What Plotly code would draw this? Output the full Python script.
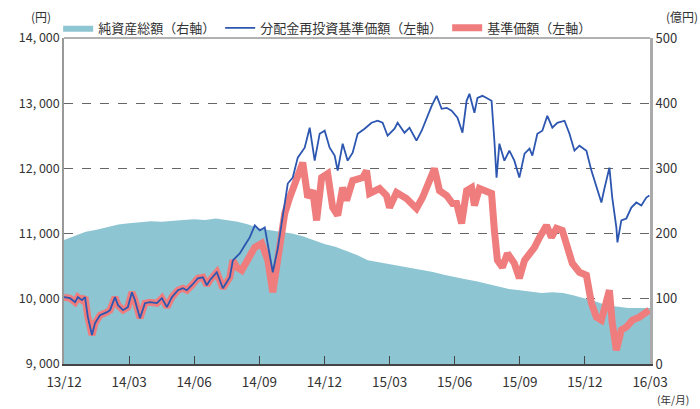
import plotly.graph_objects as go

# x positions are months elapsed since end of Dec 2013 (13/12 = 0)
tick_months = [0, 3, 6, 9, 12, 15, 18, 21, 24, 27]
tick_labels = ["13/12", "14/03", "14/06", "14/09", "14/12", "15/03", "15/06", "15/09", "15/12", "16/03"]

# 純資産総額（億円, right axis)
asset_months = [0, 0.5, 1, 1.5, 2, 2.5, 3, 3.5, 4, 4.5, 5, 5.5, 6, 6.5, 7, 7.5, 8, 8.5, 9, 9.5, 10, 10.5,
                11, 11.5, 12, 12.5, 13, 13.5, 14, 14.5, 15, 15.5, 16, 16.5, 17, 17.5, 18, 18.5, 19, 19.5,
                20, 20.5, 21, 21.5, 22, 22.5, 23, 23.5, 24, 24.5, 25, 25.5, 26, 26.5, 27]
asset_values = [190, 196, 203, 206, 210, 214, 216, 218, 219, 218, 220, 221, 222, 221, 223, 221, 218, 214, 208, 205,
                203, 200, 196, 190, 184, 180, 174, 167, 159, 156, 154, 150, 147, 144, 141, 137, 133, 130, 127, 123,
                118, 115, 113, 111, 109, 110, 109, 105, 101, 96, 90, 88, 86, 86, 86]

# Period where both price series coincide (円, left axis)
common_months = [0, 0.28, 0.51, 0.64, 0.83, 0.97, 1.10, 1.29, 1.43, 1.66, 1.98, 2.12, 2.35, 2.49, 2.72, 2.94,
                 3.13, 3.27, 3.50, 3.73, 3.96, 4.28, 4.51, 4.74, 4.97, 5.25, 5.48, 5.66, 5.89, 6.17, 6.40,
                 6.58, 6.72, 7.04, 7.32, 7.64, 7.78]
common_values = [10025, 10009, 9948, 10025, 9979, 10025, 9719, 9444, 9627, 9749, 9795, 9826, 10025, 9902, 9826, 9872,
                 10101, 9979, 9703, 9933, 9948, 9933, 10009, 9872, 10025, 10131, 10162, 10131, 10208, 10315, 10330,
                 10208, 10284, 10407, 10162, 10330, 10590]

# 分配金再投資基準価額 after divergence
reinvest_months = [8.10, 8.33, 8.56, 8.79, 9.02, 9.25, 9.48, 9.62, 9.85, 10.08, 10.31, 10.54, 10.77, 11.09, 11.32,
                   11.55, 11.78, 12.01, 12.24, 12.47, 12.61, 12.84, 13.07, 13.30, 13.53, 13.85, 14.17, 14.45,
                   14.68, 14.91, 15.23, 15.37, 15.69, 15.92, 16.24, 16.48, 16.71, 16.94, 17.17, 17.40, 17.63,
                   17.86, 18.13, 18.36, 18.55, 18.68, 18.91, 19.05, 19.28, 19.51, 19.70, 19.83, 19.93, 20.06,
                   20.29, 20.52, 20.75, 20.98, 21.22, 21.45, 21.58, 21.81, 22.04, 22.27, 22.50, 22.73, 23.06,
                   23.29, 23.52, 23.75, 24.07, 24.30, 24.53, 24.76, 24.90, 25.13, 25.26, 25.45, 25.50, 25.68,
                   25.91, 26.14, 26.37, 26.60, 26.83, 26.97]
reinvest_values = [10697, 10820, 10942, 11125, 11049, 11095, 10697, 10407, 10774, 11309, 11768, 11859, 12165, 12318,
                   12624, 12119, 12532, 12578, 12318, 12196, 11966, 12379, 12119, 12241, 12532, 12609, 12700, 12731,
                   12700, 12501, 12609, 12700, 12547, 12624, 12425, 12578, 12777, 12960, 13113, 12914, 12929,
                   12884, 12777, 12547, 13037, 13144, 12853, 13083, 13113, 13067, 13037, 12425, 11859, 12379,
                   12119, 12272, 12119, 11859, 12226, 12302, 12196, 12532, 12578, 12807, 12624, 12700, 12731,
                   12532, 12272, 12348, 12272, 11966, 11706, 11477, 11691, 12012, 11553, 11095, 10866, 11202,
                   11232, 11400, 11477, 11431, 11553, 11584]

# 基準価額 after divergence
nav_months = [7.96, 8.19, 8.47, 8.79, 9.11, 9.39, 9.62, 9.85, 10.17, 10.40, 10.72, 11.00, 11.23, 11.46, 11.64,
              11.87, 12.15, 12.38, 12.61, 12.84, 13.02, 13.30, 13.76, 13.94, 14.08, 14.54, 14.86, 15.00, 15.32,
              15.78, 16.24, 16.52, 16.84, 17.07, 17.30, 17.63, 17.90, 18.09, 18.32, 18.55, 18.78, 18.91, 19.14,
              19.47, 19.70, 19.83, 19.97, 20.20, 20.43, 20.75, 20.98, 21.22, 21.45, 21.68, 21.91, 22.23, 22.46,
              22.69, 22.96, 23.19, 23.42, 23.75, 24.07, 24.30, 24.53, 24.76, 24.99, 25.13, 25.26, 25.45, 25.68,
              25.91, 26.19, 26.51, 26.83, 26.97]
nav_values = [10483, 10437, 10590, 10789, 10850, 10590, 10101, 10545, 11309, 11554, 11859, 12089, 11554, 11661, 11202,
              11859, 11920, 11400, 11278, 11706, 11508, 11813, 11859, 11966, 11615, 11691, 11584, 11400, 11630,
              11538, 11385, 11554, 11813, 11997, 11660, 11584, 11462, 11462, 11156, 11660, 11706, 11431, 11691,
              11660, 11615, 11049, 10590, 10483, 10697, 10545, 10315, 10590, 10697, 10789, 10942, 11125, 10942,
              11080, 11049, 10743, 10545, 10407, 10361, 9933, 9719, 9673, 10025, 10131, 9627, 9213, 9520,
              9566, 9673, 9719, 9795, 9826]

left_ticks = [9000, 10000, 11000, 12000, 13000, 14000]
right_ticks = [0, 100, 200, 300, 400, 500]

FONT = "Noto Sans CJK JP"
TXT = "#333333"

left_tick_text = [f"{v:,}".replace(",", ", ") for v in left_ticks]

fig = go.Figure()

# area on primary (right-side) axis so that the price lines on the overlay draw above it
fig.add_trace(go.Scatter(
    x=asset_months, y=asset_values, yaxis="y", name="純資産総額（右軸）",
    mode="lines", line=dict(width=0, color="#8ec5d3"), fill="tozeroy",
    fillcolor="#8ec5d3", legendrank=1, hoverinfo="skip"))

fig.add_trace(go.Scatter(
    x=common_months + nav_months, y=common_values + nav_values, yaxis="y2", name="基準価額（左軸）",
    mode="lines", line=dict(width=7, color="#ef7d7d"), legendrank=3, hoverinfo="skip"))

fig.add_trace(go.Scatter(
    x=common_months + reinvest_months, y=common_values + reinvest_values, yaxis="y2",
    name="分配金再投資基準価額（左軸）",
    mode="lines", line=dict(width=1.8, color="#2c56b0"), legendrank=2, hoverinfo="skip"))

fig.update_layout(
    width=700, height=409,
    margin=dict(l=64, r=50, t=38, b=45, autoexpand=False),
    paper_bgcolor="white", plot_bgcolor="white",
    font=dict(family=FONT, size=12, color=TXT),
    showlegend=True,
    legend=dict(orientation="h", x=-0.01, y=1.031, xanchor="left", yanchor="middle",
                font=dict(family=FONT, size=13, color=TXT), bgcolor="rgba(0,0,0,0)",
                itemwidth=30, tracegroupgap=0),
    xaxis=dict(range=[0, 27.0], tickvals=tick_months, ticktext=tick_labels,
               showgrid=False, zeroline=False, showline=True, linecolor="#444444", linewidth=1.5,
               ticks="inside", ticklen=8, tickcolor="#444444", tickwidth=1, ticklabelstandoff=5,
               tickfont=dict(family=FONT, size=13.5, color=TXT)),
    yaxis=dict(range=[0, 500], tickvals=right_ticks, side="right",
               showgrid=True, gridcolor="#666666", griddash="dash", gridwidth=1,
               zeroline=False, showline=True, linecolor="#aaaaaa", linewidth=3,
               ticks="", tickfont=dict(family=FONT, size=13, color=TXT)),
    yaxis2=dict(range=[9000, 14000], tickvals=left_ticks, ticktext=left_tick_text,
                overlaying="y", side="left",
                showgrid=False, zeroline=False, showline=True, linecolor="#999999", linewidth=1.5,
                ticks="", tickfont=dict(family=FONT, size=12.5, color=TXT)),
    annotations=[
        dict(text="(円)", xref="paper", yref="paper", x=-0.04, y=1.067, xanchor="center", yanchor="middle",
             showarrow=False, font=dict(family=FONT, size=12, color=TXT)),
        dict(text="(億円)", xref="paper", yref="paper", x=1.085, y=1.067, xanchor="right", yanchor="middle",
             showarrow=False, font=dict(family=FONT, size=12, color=TXT)),
        dict(text="(年/月)", xref="paper", yref="paper", x=1.04, y=-0.11, xanchor="center", yanchor="middle",
             showarrow=False, font=dict(family=FONT, size=10.5, color=TXT)),
    ],
    shapes=[dict(type="line", xref="paper", yref="paper", x0=0, x1=1, y0=1, y1=1,
                 line=dict(color="#999999", width=1.5))],
)

fig.write_html("out.html", config={"displayModeBar": False},
               post_script="document.body.style.margin='0px';")
